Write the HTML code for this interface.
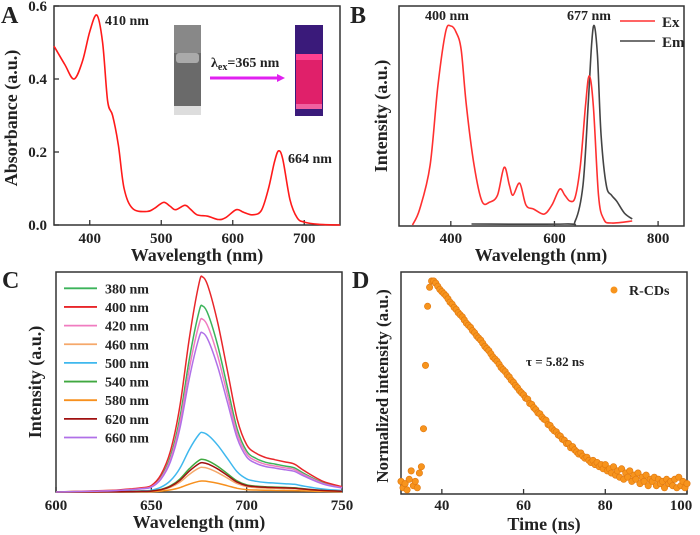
<!DOCTYPE html>
<html><head><meta charset="utf-8"><style>
html,body{margin:0;padding:0;background:#fff;}
svg{display:block;font-family:"Liberation Serif",serif;font-weight:bold;}
</style></head><body>
<svg id="fig" width="700" height="535" viewBox="0 0 700 535"></svg>
<script>
// ---------- Panel A data ----------
const aWl=[350,365,378,390,400,410,418,425,432,440,448,460,480,490,503,512,520,533,540,550,565,580,590,605,615,628,640,650,658,664,670,680,690,700,720,750];
const aAbs=[0.49,0.44,0.40,0.45,0.53,0.575,0.50,0.34,0.30,0.22,0.10,0.045,0.037,0.045,0.062,0.052,0.042,0.054,0.045,0.028,0.024,0.015,0.02,0.042,0.035,0.028,0.04,0.10,0.17,0.203,0.18,0.07,0.02,0.008,0.002,0.0];
const aXTicks=[400,500,600,700];
const aYTicks=[0.0,0.2,0.4,0.6];
// ---------- Panel B data ----------
const bExWl=[326,340,360,375,390,400,410,420,430,445,460,475,490,503,513,520,533,545,560,580,595,610,620,630,640,650,660,667,675,685,695,710,750];
const bEx=[0,0.08,0.3,0.7,0.97,1.0,0.97,0.88,0.6,0.3,0.12,0.115,0.15,0.29,0.2,0.15,0.21,0.1,0.08,0.055,0.1,0.18,0.15,0.12,0.14,0.3,0.6,0.75,0.6,0.15,0.03,0.01,0.02];
const bEmWl=[440,620,640,655,665,672,677,683,690,700,710,720,735,750];
const bEm=[0.005,0.005,0.02,0.2,0.6,0.92,1.0,0.85,0.45,0.2,0.15,0.12,0.06,0.03];
const bXTicks=[400,600,800];
// ---------- Panel C data ----------
const cWl=[600,620,630,640,645,650,655,660,665,670,675,677,680,685,690,695,700,705,710,715,720,725,730,740,750];
const cProfile=[0,0.005,0.008,0.015,0.02,0.03,0.08,0.19,0.4,0.72,0.97,1.0,0.95,0.78,0.56,0.34,0.22,0.18,0.16,0.15,0.14,0.13,0.1,0.05,0.025];
const cLabels=["380 nm","400 nm","420 nm","460 nm","500 nm","540 nm","580 nm","620 nm","660 nm"];
const cPeaks=[0.845,0.977,0.785,0.112,0.27,0.148,0.05,0.133,0.723];
const cColors=["#3cb35a","#e8262a","#f07cc0","#f5a86a","#3fb8ee","#40a840","#f7901e","#a01010","#b070e8"];
const cXTicks=[600,650,700,750];
// ---------- Panel D data ----------
const dT0=30, dStep=0.5;
const dVals=[0.05,0.02,0.04,0.01,0.06,0.1,0.03,0.05,0.02,0.09,0.12,0.3,0.6,0.88,0.97,1.0,
1.00,.99,.975,.96,.95,.94,.93,.915,.90,.89,.875,.865,.85,.84,.83,.815,.80,.79,.78,.765,.755,.74,.73,.72,.705,.69,.68,.67,.655,.64,.63,.62,.605,.59,.58,.57,.555,.545,.53,.52,.505,.495,.48,.47,.46,.445,.44,.42,.415,.40,.39,.375,.37,.355,.345,.34,.32,.315,.30,.29,.285,.27,.265,.25,.245,.23,.23,.21,.215,.20,.19,.18,.185,.17,.16,.165,.15,.14,.15,.13,.14,.12,.13,.11,.13,.10,.11,.09,.12,.08,.10,.07,.11,.06,.09,.07,.10,.05,.08,.06,.09,.04,.07,.05,.08,.03,.06,.05,.07,.03,.06,.04,.05,.02,.06,.04,.05,.03,.06,.02,.07,.03,.05,.02,.04];
const dXTicks=[40,60,80,100];

const NS="http://www.w3.org/2000/svg";
const svg=document.getElementById('fig');
function mk(tag,attrs,parent){const e=document.createElementNS(NS,tag);for(const k in attrs)e.setAttribute(k,attrs[k]);(parent||svg).appendChild(e);return e;}
function txt(s,x,y,size,anchor,parent,extra){const e=mk('text',Object.assign({x:x,y:y,'font-size':size,'text-anchor':anchor||'start',fill:'#222'},extra||{}),parent);e.textContent=s;return e;}
function lin(d0,d1,r0,r1){return v=>r0+(v-d0)*(r1-r0)/(d1-d0);}
function path(xs,ys,sx,sy){
  const P=xs.map((x,i)=>[sx(x),sy(ys[i])]);
  let d='M'+P[0][0].toFixed(1)+','+P[0][1].toFixed(1);
  for(let i=0;i<P.length-1;i++){
    const p0=P[i-1]||P[i],p1=P[i],p2=P[i+1],p3=P[i+2]||P[i+1];
    const c1=[p1[0]+(p2[0]-p0[0])/6,p1[1]+(p2[1]-p0[1])/6];
    const c2=[p2[0]-(p3[0]-p1[0])/6,p2[1]-(p3[1]-p1[1])/6];
    d+='C'+c1.map(v=>v.toFixed(1)).join(',')+' '+c2.map(v=>v.toFixed(1)).join(',')+' '+p2[0].toFixed(1)+','+p2[1].toFixed(1);
  }
  return d;
}
function frame(x0,y0,x1,y1,g){const r=mk('rect',{x:x0,y:y0,width:x1-x0,height:y1-y0,fill:'none',stroke:'#333','stroke-width':1.5},g);}

// ===== Panel A =====
const gA=mk('g',{});
const ax=lin(350,750,54,340), ay=lin(0,0.6,225,6);
frame(54,6,340,225,gA);
aXTicks.forEach(t=>{mk('line',{x1:ax(t),x2:ax(t),y1:225,y2:220,stroke:'#333','stroke-width':1.3},gA);const l=txt(String(t),ax(t),243,15,'middle',gA);});
aYTicks.forEach(t=>{mk('line',{x1:54,x2:59,y1:ay(t),y2:ay(t),stroke:'#333','stroke-width':1.3},gA);const l=txt(t.toFixed(1),47,ay(t)+5,15,'end',gA);});
let pa=mk('path',{d:path(aWl,aAbs,ax,ay),fill:'none',stroke:'#ff1a1a','stroke-width':1.6},gA);
let t;
t=txt('A',1,23,24,'start',gA);
t=txt('410 nm',105,25,14,'start',gA);
t=txt('664 nm',288,163,14,'start',gA);
t=txt('Wavelength (nm)',197,261,18,'middle',gA);
t=txt('Absorbance (a.u.)',0,0,18,'middle',gA,{transform:'translate(17,118) rotate(-90)'});
// inset
const ins=mk('g',{},gA);
mk('rect',{x:174,y:25,width:27,height:90,fill:'#6a6a6a'},ins);
mk('rect',{x:174,y:25,width:27,height:28,fill:'#888'},ins);
mk('rect',{x:176,y:53,width:23,height:10,fill:'#aaa',rx:3},ins);
mk('rect',{x:174,y:106,width:27,height:9,fill:'#ddd'},ins);
mk('rect',{x:295,y:25,width:28,height:91,fill:'#3a1a7a'},ins);
mk('rect',{x:296,y:56,width:26,height:50,fill:'#e0206a'},ins);
mk('rect',{x:296,y:54,width:26,height:6,fill:'#ff4090'},ins);
mk('rect',{x:296,y:104,width:26,height:5,fill:'#f060a0'},ins);
mk('line',{x1:210,x2:278,y1:78,y2:78,stroke:'#e020f0','stroke-width':3},ins);
mk('polygon',{points:'277,74 285,78 277,82',fill:'#e020f0'},ins);
const lt=txt('λ',211,67,14,'start',ins);const sb=mk('tspan',{'font-size':10,dy:3},lt);sb.textContent='ex';const rs=mk('tspan',{dy:-3},lt);rs.textContent='=365 nm';


// ===== Panel B =====
const gB=mk('g',{});
const bx=lin(300,850,399,684), by=lin(0,1,225,26);
frame(399,6,684,226,gB);
bXTicks.forEach(v=>{mk('line',{x1:bx(v),x2:bx(v),y1:226,y2:221,stroke:'#333','stroke-width':1.3},gB);const l=txt(String(v),bx(v),243,15,'middle',gB);});
let pe=mk('path',{d:path(bEmWl,bEm,bx,by),fill:'none',stroke:'#444','stroke-width':1.6},gB);
let px=mk('path',{d:path(bExWl,bEx,bx,by),fill:'none',stroke:'#ff3030','stroke-width':1.6},gB);
t=txt('B',350,23,24,'start',gB);
t=txt('400 nm',447,20,14,'middle',gB);
t=txt('677 nm',589,20,14,'middle',gB);
mk('line',{x1:620,x2:655,y1:21,y2:21,stroke:'#ff3030','stroke-width':1.6},gB);
t=txt('Ex',662,27,15,'start',gB);
mk('line',{x1:620,x2:655,y1:41,y2:41,stroke:'#444','stroke-width':1.6},gB);
t=txt('Em',662,47,15,'start',gB);
t=txt('Wavelength (nm)',541,261,18,'middle',gB);
t=txt('Intensity (a.u.)',0,0,18,'middle',gB,{transform:'translate(387,116) rotate(-90)'});

// ===== Panel C =====
const gC=mk('g',{});
const cx=lin(600,750,56,342), cy=lin(0,1,492,272);
frame(56,272,342,492,gC);
cXTicks.forEach(v=>{mk('line',{x1:cx(v),x2:cx(v),y1:492,y2:487,stroke:'#333','stroke-width':1.3},gC);const l=txt(String(v),cx(v),510,15,'middle',gC);});
cPeaks.forEach((p,i)=>{
  const ys=cProfile.map(v=>v*p);
  const el=mk('path',{d:path(cWl,ys,cx,cy),fill:'none',stroke:cColors[i],'stroke-width':1.5},gC);
  
  
  const ly=288.3+i*18.65;
  mk('line',{x1:64,x2:97,y1:ly,y2:ly,stroke:cColors[i],'stroke-width':1.8},gC);
  const l=txt(cLabels[i],105,ly+5,14,'start',gC);
  
  
});
t=txt('C',2,288,24,'start',gC);
t=txt('Wavelength (nm)',199,528,18,'middle',gC);
t=txt('Intensity (a.u.)',0,0,18,'middle',gC,{transform:'translate(41,382) rotate(-90)'});

// ===== Panel D =====
const gD=mk('g',{});
const dx=lin(30,100,401,687), dy=lin(0,1,492,281);
frame(401,272,687,494,gD);
dXTicks.forEach(v=>{mk('line',{x1:dx(v),x2:dx(v),y1:494,y2:489,stroke:'#333','stroke-width':1.3},gD);const l=txt(String(v),dx(v)-(v==100?6:0),510,15,'middle',gD);});
const dots=mk('g',{},gD);
dVals.forEach((v,i)=>{
  const c=mk('circle',{cx:dx(dT0+i*dStep).toFixed(1),cy:dy(v).toFixed(1),r:3.2,fill:'#f7941d',stroke:'#e07810','stroke-width':0.6},dots);
  
  
});
t=txt('D',352,288,24,'start',gD);
mk('circle',{cx:614,cy:290,r:3.5,fill:'#f7941d'},gD);
t=txt('R-CDs',629,295,14,'start',gD);
t=txt('τ = 5.82 ns',526,366,13,'start',gD);
t=txt('Time (ns)',544,530,18,'middle',gD);
t=txt('Normalized intensity (a.u.)',0,0,17,'middle',gD,{transform:'translate(388,386) rotate(-90)'});
</script>
</body></html>
